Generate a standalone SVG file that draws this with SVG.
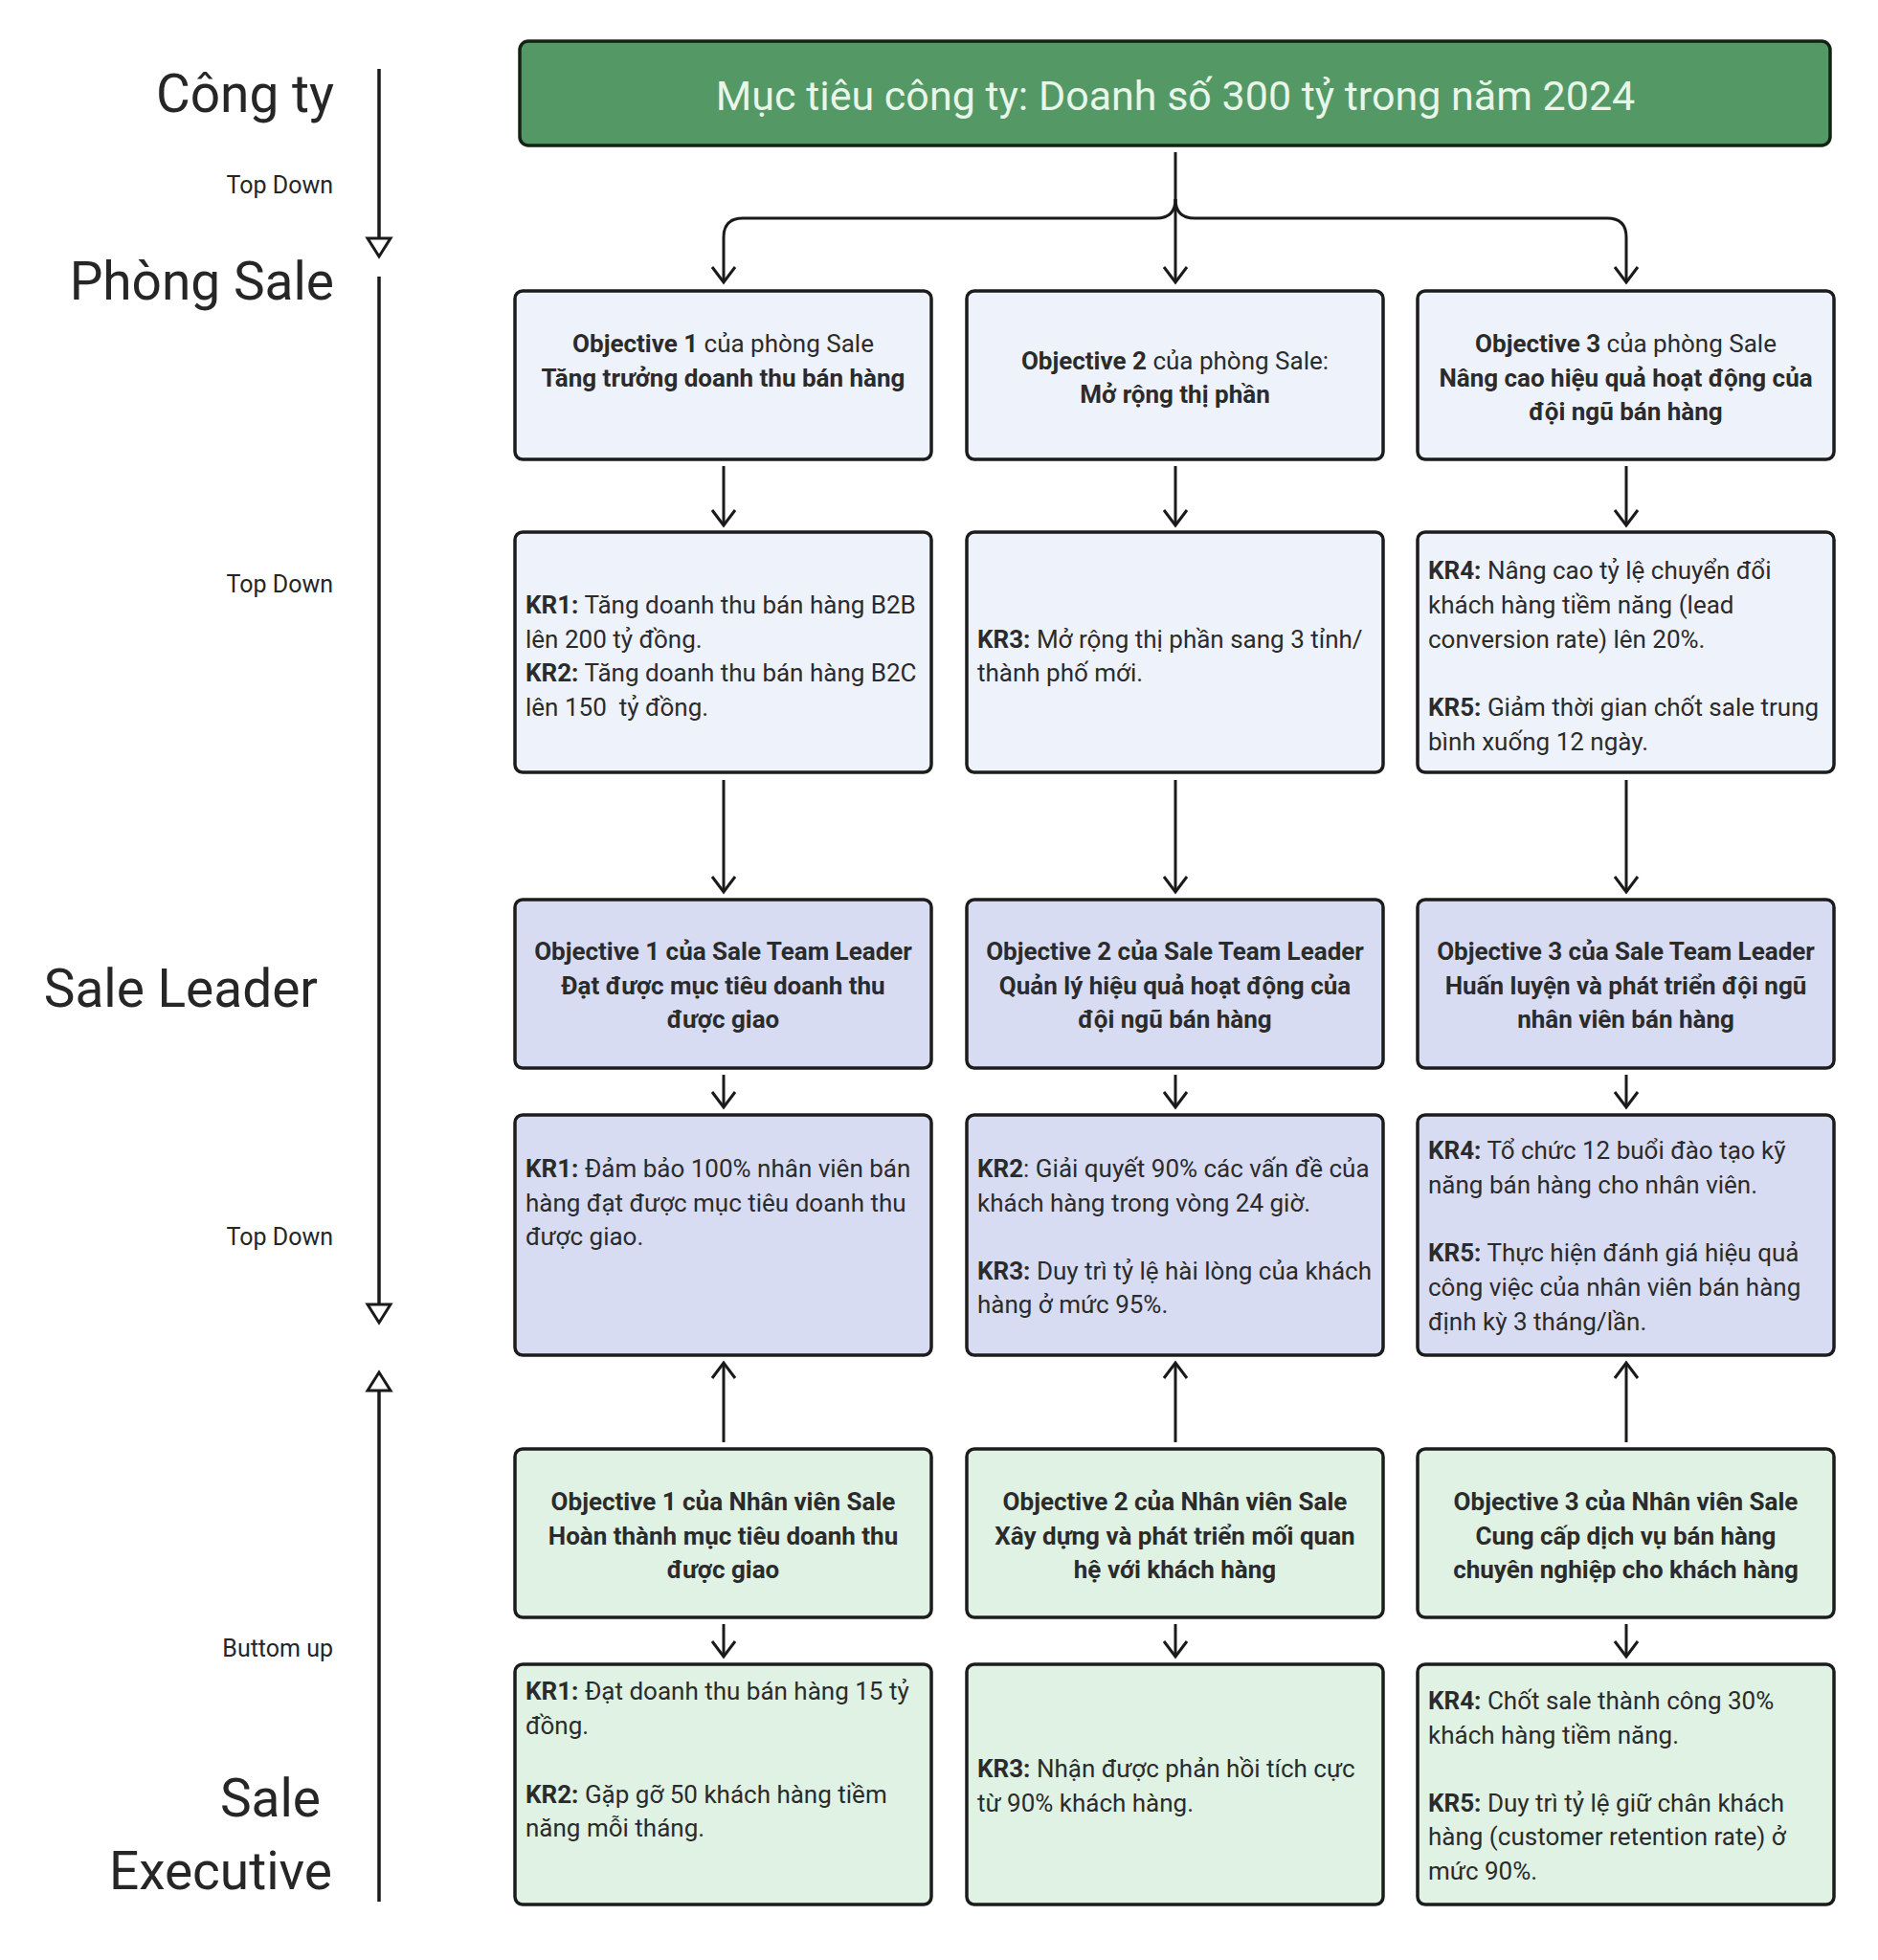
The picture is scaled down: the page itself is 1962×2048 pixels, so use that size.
<svg xmlns="http://www.w3.org/2000/svg" width="1962" height="2048" viewBox="0 0 1962 2048">
<style>
text{font-family:Roboto,'Liberation Sans',sans-serif;fill:#262626}
.big{font-size:55px}
.sm{font-size:25px}
.t{font-size:26px;fill:#2b2b2b}
.c{text-anchor:middle}
.e{text-anchor:end}
.b{font-weight:700}
.box{stroke:#1c1c1c;stroke-width:3.5}
.f1{fill:#eef2fb}
.f2{fill:#d7dcf3}
.f3{fill:#dff2e4}
.conn{fill:none;stroke:#1a1a1a;stroke-width:3}
.axis{fill:none;stroke:#1a1a1a;stroke-width:3.5}
</style>
<defs>
<marker id="chev" markerUnits="userSpaceOnUse" viewBox="-20 -15 24 30" markerWidth="24" markerHeight="30" refX="0" refY="0" orient="auto">
<path d="M-16,-12 L0,0 L-16,12" fill="none" stroke="#1a1a1a" stroke-width="3" stroke-linejoin="miter"/>
</marker>
<marker id="tri" markerUnits="userSpaceOnUse" viewBox="-24 -16 28 32" markerWidth="28" markerHeight="32" refX="0" refY="0" orient="auto">
<path d="M-19,-12 L0,0 L-19,12 Z" fill="#fff" stroke="#1a1a1a" stroke-width="3"/>
</marker>
</defs>
<rect width="1962" height="2048" fill="#fff"/>

<g id="left-axis">
<text class="big e" x="349" y="117">Công ty</text>
<text class="sm e" x="348" y="202">Top Down</text>
<text class="big e" x="349" y="313">Phòng Sale</text>
<text class="sm e" x="348" y="619">Top Down</text>
<text class="big e" x="332" y="1052">Sale Leader</text>
<text class="sm e" x="348" y="1301">Top Down</text>
<text class="sm e" x="348" y="1731">Buttom up</text>
<text class="big e" x="335" y="1898">Sale</text>
<text class="big e" x="347" y="1974">Executive</text>
<path class="axis" d="M396,72 V268" marker-end="url(#tri)"/>
<path class="axis" d="M396,289 V1382" marker-end="url(#tri)"/>
<path class="axis" d="M396,1987 V1434" marker-end="url(#tri)"/>
</g>

<g id="connectors">
<path class="conn" d="M1228,159 V295" marker-end="url(#chev)"/>
<path class="conn" d="M1228,208 Q1228,228 1208,228 H776 Q756,228 756,248 V295" marker-end="url(#chev)"/>
<path class="conn" d="M1228,208 Q1228,228 1248,228 H1679 Q1699,228 1699,248 V295" marker-end="url(#chev)"/>
<path class="conn" d="M756,487 V549" marker-end="url(#chev)"/>
<path class="conn" d="M1228,487 V549" marker-end="url(#chev)"/>
<path class="conn" d="M1699,487 V549" marker-end="url(#chev)"/>
<path class="conn" d="M756,815 V932" marker-end="url(#chev)"/>
<path class="conn" d="M1228,815 V932" marker-end="url(#chev)"/>
<path class="conn" d="M1699,815 V932" marker-end="url(#chev)"/>
<path class="conn" d="M756,1123 V1157" marker-end="url(#chev)"/>
<path class="conn" d="M1228,1123 V1157" marker-end="url(#chev)"/>
<path class="conn" d="M1699,1123 V1157" marker-end="url(#chev)"/>
<path class="conn" d="M756,1507 V1424" marker-end="url(#chev)"/>
<path class="conn" d="M1228,1507 V1424" marker-end="url(#chev)"/>
<path class="conn" d="M1699,1507 V1424" marker-end="url(#chev)"/>
<path class="conn" d="M756,1697 V1731" marker-end="url(#chev)"/>
<path class="conn" d="M1228,1697 V1731" marker-end="url(#chev)"/>
<path class="conn" d="M1699,1697 V1731" marker-end="url(#chev)"/>
</g>

<g id="company-goal">
<rect x="543" y="43" width="1369" height="109" rx="9" fill="#539865" stroke="#142214" stroke-width="3.5"/>
<text class="c" x="1228" y="115" style="font-size:43px;fill:#e8f5e9">Mục tiêu công ty: Doanh số 300 tỷ trong năm 2024</text>
</g>

<g id="sale-obj1">
<rect class="box f1" x="538" y="304" width="435" height="176" rx="8"/>
<text class="t c" x="755.5" y="368"><tspan class="b">Objective 1</tspan> của phòng Sale</text>
<text class="t c b" x="755.5" y="404">Tăng trưởng doanh thu bán hàng</text>
</g>
<g id="sale-obj2">
<rect class="box f1" x="1010" y="304" width="435" height="176" rx="8"/>
<text class="t c" x="1227.5" y="386"><tspan class="b">Objective 2</tspan> của phòng Sale:</text>
<text class="t c b" x="1227.5" y="421">Mở rộng thị phần</text>
</g>
<g id="sale-obj3">
<rect class="box f1" x="1481" y="304" width="435" height="176" rx="8"/>
<text class="t c" x="1698.5" y="368"><tspan class="b">Objective 3</tspan> của phòng Sale</text>
<text class="t c b" x="1698.5" y="404">Nâng cao hiệu quả hoạt động của</text>
<text class="t c b" x="1698.5" y="439">đội ngũ bán hàng</text>
</g>

<g id="sale-kr1">
<rect class="box f1" x="538" y="556" width="435" height="251" rx="8"/>
<text class="t" x="549" y="641"><tspan class="b">KR1:</tspan> Tăng doanh thu bán hàng B2B</text>
<text class="t" x="549" y="677">lên 200 tỷ đồng.</text>
<text class="t" x="549" y="712"><tspan class="b">KR2:</tspan> Tăng doanh thu bán hàng B2C</text>
<text class="t" x="549" y="748" style="white-space:pre">lên 150  tỷ đồng.</text>
</g>
<g id="sale-kr2">
<rect class="box f1" x="1010" y="556" width="435" height="251" rx="8"/>
<text class="t" x="1021" y="677"><tspan class="b">KR3:</tspan> Mở rộng thị phần sang 3 tỉnh/</text>
<text class="t" x="1021" y="712">thành phố mới.</text>
</g>
<g id="sale-kr3">
<rect class="box f1" x="1481" y="556" width="435" height="251" rx="8"/>
<text class="t" x="1492" y="605"><tspan class="b">KR4:</tspan> Nâng cao tỷ lệ chuyển đổi</text>
<text class="t" x="1492" y="641">khách hàng tiềm năng (lead</text>
<text class="t" x="1492" y="677">conversion rate) lên 20%.</text>
<text class="t" x="1492" y="748"><tspan class="b">KR5:</tspan> Giảm thời gian chốt sale trung</text>
<text class="t" x="1492" y="784">bình xuống 12 ngày.</text>
</g>

<g id="leader-obj1">
<rect class="box f2" x="538" y="940" width="435" height="176" rx="8"/>
<text class="t c b" x="755.5" y="1003">Objective 1 của Sale Team Leader</text>
<text class="t c b" x="755.5" y="1039">Đạt được mục tiêu doanh thu</text>
<text class="t c b" x="755.5" y="1074">được giao</text>
</g>
<g id="leader-obj2">
<rect class="box f2" x="1010" y="940" width="435" height="176" rx="8"/>
<text class="t c b" x="1227.5" y="1003">Objective 2 của Sale Team Leader</text>
<text class="t c b" x="1227.5" y="1039">Quản lý hiệu quả hoạt động của</text>
<text class="t c b" x="1227.5" y="1074">đội ngũ bán hàng</text>
</g>
<g id="leader-obj3">
<rect class="box f2" x="1481" y="940" width="435" height="176" rx="8"/>
<text class="t c b" x="1698.5" y="1003">Objective 3 của Sale Team Leader</text>
<text class="t c b" x="1698.5" y="1039">Huấn luyện và phát triển đội ngũ</text>
<text class="t c b" x="1698.5" y="1074">nhân viên bán hàng</text>
</g>

<g id="leader-kr1">
<rect class="box f2" x="538" y="1165" width="435" height="251" rx="8"/>
<text class="t" x="549" y="1230"><tspan class="b">KR1:</tspan> Đảm bảo 100% nhân viên bán</text>
<text class="t" x="549" y="1266">hàng đạt được mục tiêu doanh thu</text>
<text class="t" x="549" y="1301">được giao.</text>
</g>
<g id="leader-kr2">
<rect class="box f2" x="1010" y="1165" width="435" height="251" rx="8"/>
<text class="t" x="1021" y="1230"><tspan class="b">KR2</tspan>: Giải quyết 90% các vấn đề của</text>
<text class="t" x="1021" y="1266">khách hàng trong vòng 24 giờ.</text>
<text class="t" x="1021" y="1337"><tspan class="b">KR3:</tspan> Duy trì tỷ lệ hài lòng của khách</text>
<text class="t" x="1021" y="1372">hàng ở mức 95%.</text>
</g>
<g id="leader-kr3">
<rect class="box f2" x="1481" y="1165" width="435" height="251" rx="8"/>
<text class="t" x="1492" y="1211"><tspan class="b">KR4:</tspan> Tổ chức 12 buổi đào tạo kỹ</text>
<text class="t" x="1492" y="1247">năng bán hàng cho nhân viên.</text>
<text class="t" x="1492" y="1318"><tspan class="b">KR5:</tspan> Thực hiện đánh giá hiệu quả</text>
<text class="t" x="1492" y="1354">công việc của nhân viên bán hàng</text>
<text class="t" x="1492" y="1390">định kỳ 3 tháng/lần.</text>
</g>

<g id="exec-obj1">
<rect class="box f3" x="538" y="1514" width="435" height="176" rx="8"/>
<text class="t c b" x="755.5" y="1578">Objective 1 của Nhân viên Sale</text>
<text class="t c b" x="755.5" y="1614">Hoàn thành mục tiêu doanh thu</text>
<text class="t c b" x="755.5" y="1649">được giao</text>
</g>
<g id="exec-obj2">
<rect class="box f3" x="1010" y="1514" width="435" height="176" rx="8"/>
<text class="t c b" x="1227.5" y="1578">Objective 2 của Nhân viên Sale</text>
<text class="t c b" x="1227.5" y="1614">Xây dựng và phát triển mối quan</text>
<text class="t c b" x="1227.5" y="1649">hệ với khách hàng</text>
</g>
<g id="exec-obj3">
<rect class="box f3" x="1481" y="1514" width="435" height="176" rx="8"/>
<text class="t c b" x="1698.5" y="1578">Objective 3 của Nhân viên Sale</text>
<text class="t c b" x="1698.5" y="1614">Cung cấp dịch vụ bán hàng</text>
<text class="t c b" x="1698.5" y="1649">chuyên nghiệp cho khách hàng</text>
</g>

<g id="exec-kr1">
<rect class="box f3" x="538" y="1739" width="435" height="251" rx="8"/>
<text class="t" x="549" y="1776"><tspan class="b">KR1:</tspan> Đạt doanh thu bán hàng 15 tỷ</text>
<text class="t" x="549" y="1812">đồng.</text>
<text class="t" x="549" y="1884"><tspan class="b">KR2:</tspan> Gặp gỡ 50 khách hàng tiềm</text>
<text class="t" x="549" y="1919">năng mỗi tháng.</text>
</g>
<g id="exec-kr2">
<rect class="box f3" x="1010" y="1739" width="435" height="251" rx="8"/>
<text class="t" x="1021" y="1857"><tspan class="b">KR3:</tspan> Nhận được phản hồi tích cực</text>
<text class="t" x="1021" y="1893">từ 90% khách hàng.</text>
</g>
<g id="exec-kr3">
<rect class="box f3" x="1481" y="1739" width="435" height="251" rx="8"/>
<text class="t" x="1492" y="1786"><tspan class="b">KR4:</tspan> Chốt sale thành công 30%</text>
<text class="t" x="1492" y="1822">khách hàng tiềm năng.</text>
<text class="t" x="1492" y="1893"><tspan class="b">KR5:</tspan> Duy trì tỷ lệ giữ chân khách</text>
<text class="t" x="1492" y="1928">hàng (customer retention rate) ở</text>
<text class="t" x="1492" y="1964">mức 90%.</text>
</g>
</svg>
